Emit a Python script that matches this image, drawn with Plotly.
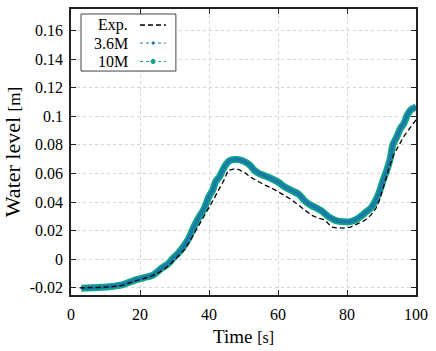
import plotly.graph_objects as go

# ---- data ----
t_exp = [2.5, 6, 9, 12, 15, 17, 19, 21, 23, 25, 27, 29, 31, 33, 35, 37, 39, 41, 43, 44.5, 45.5, 47, 48.5,
         50, 52, 54, 56, 58, 60, 62, 64, 66, 68, 70, 72, 73.6, 74.5, 75.5, 77, 79, 81, 83, 85, 87, 88.5,
         89.5, 90.5, 91.5, 92.5, 93.5, 95, 96.5, 98, 100]
y_exp = [-0.0200, -0.0200, -0.0197, -0.0192, -0.0182, -0.0165, -0.0148, -0.0135, -0.0122, -0.0100, -0.0070,
         -0.0030, 0.0020, 0.0070, 0.0150, 0.0230, 0.0320, 0.0405, 0.0500, 0.0560, 0.0620, 0.0630, 0.0628,
         0.0612, 0.0575, 0.0545, 0.0520, 0.0500, 0.0475, 0.0445, 0.0415, 0.0375, 0.0340, 0.0305, 0.0285,
         0.0275, 0.0250, 0.0225, 0.0220, 0.0218, 0.0225, 0.0245, 0.0270, 0.0310, 0.0360, 0.0420, 0.0500,
         0.0590, 0.0660, 0.0730, 0.0800, 0.0860, 0.0910, 0.0975]

t_sim = [3, 6, 9, 12, 15, 17, 19, 21, 23, 24, 25, 26.5, 28, 29.5, 31, 32.5, 34, 35.5, 37, 38.5, 40, 41, 42,
         43, 44, 45, 46, 47.5, 49, 50.5, 52, 53, 54.5, 56, 58, 60, 62, 64, 66, 67.5, 69, 71, 72.5, 74, 75.5,
         77, 79, 81, 82.5, 84, 85.5, 87, 88.5, 89.5, 90.5, 91.5, 92.5, 93.3, 94.5, 95.5, 96.5, 97.5, 98.5, 100]
y_10m = [-0.0203, -0.0200, -0.0196, -0.0190, -0.0178, -0.0160, -0.0143, -0.0130, -0.0118, -0.0108, -0.0088,
         -0.0058, -0.0035, 0.0005, 0.0040, 0.0085, 0.0140, 0.0220, 0.0290, 0.0350, 0.0440, 0.0480, 0.0545,
         0.0575, 0.0625, 0.0665, 0.0690, 0.0697, 0.0695, 0.0680, 0.0655, 0.0625, 0.0600, 0.0585, 0.0565,
         0.0540, 0.0505, 0.0480, 0.0455, 0.0415, 0.0385, 0.0360, 0.0340, 0.0310, 0.0285, 0.0268, 0.0262,
         0.0263, 0.0275, 0.0300, 0.0330, 0.0360, 0.0420, 0.0480, 0.0555, 0.0620, 0.0700, 0.0800, 0.0860,
         0.0915, 0.0950, 0.1010, 0.1045, 0.1065]
y_36m = [-0.0202, -0.0199, -0.0195, -0.0189, -0.0177, -0.0159, -0.0142, -0.0129, -0.0117, -0.0107, -0.0087,
         -0.0057, -0.0034, 0.0006, 0.0041, 0.0086, 0.0141, 0.0221, 0.0291, 0.0351, 0.0441, 0.0481, 0.0546,
         0.0576, 0.0626, 0.0666, 0.0691, 0.0698, 0.0696, 0.0681, 0.0656, 0.0626, 0.0601, 0.0586, 0.0566,
         0.0541, 0.0506, 0.0481, 0.0456, 0.0416, 0.0386, 0.0361, 0.0341, 0.0311, 0.0286, 0.0269, 0.0263,
         0.0264, 0.0276, 0.0301, 0.0331, 0.0361, 0.0421, 0.0481, 0.0556, 0.0621, 0.0701, 0.0801, 0.0861,
         0.0916, 0.0951, 0.1011, 0.1046, 0.1066]

x_ticks = [0, 20, 40, 60, 80, 100]
y_ticks = [-0.02, 0, 0.02, 0.04, 0.06, 0.08, 0.1, 0.12, 0.14, 0.16]
y_tick_labels = ["-0.02", "0", "0.02", "0.04", "0.06", "0.08", "0.1", "0.12", "0.14", "0.16"]

legend_names = ["Exp.", "3.6M", "10M"]

C_10M = "#10a585"
C_36M = "#1a78ac"
FONT = "Liberation Serif"

fig = go.Figure()
fig.add_trace(go.Scatter(x=t_sim, y=y_10m, mode="lines", name="10M",
                         line=dict(color=C_10M, width=7, shape="spline"), showlegend=False))
fig.add_trace(go.Scatter(x=t_sim, y=y_36m, mode="lines", name="3.6M",
                         line=dict(color=C_36M, width=3.5, shape="spline"), showlegend=False))
fig.add_trace(go.Scatter(x=t_exp, y=y_exp, mode="lines", name="Exp.",
                         line=dict(color="black", width=1.3, dash="5px,3px"), showlegend=False))

axis_common = dict(showline=True, linecolor="#222", linewidth=1.5, mirror="allticks",
                   ticks="inside", ticklen=5, tickcolor="#222", tickwidth=1,
                   showgrid=True, gridcolor="#d4d4d4", griddash="dot", gridwidth=1,
                   zeroline=False, automargin=False,
                   tickfont=dict(family=FONT, size=16, color="black"))

fig.update_xaxes(range=[0, 100], tickvals=x_ticks, ticklabelstandoff=4,
                 title=dict(text="Time <span style='font-size:16px'>[s]</span>",
                            font=dict(family=FONT, size=19, color="black"), standoff=8),
                 **axis_common)
fig.update_yaxes(range=[-0.025, 0.175], tickvals=y_ticks, ticktext=y_tick_labels, ticklabelstandoff=3,
                 title=dict(text="Water level <span style='font-size:17px'>[m]</span>",
                            font=dict(family=FONT, size=22, color="black"), standoff=10),
                 **axis_common)

# custom legend (text left, sample right)
shapes = [dict(type="rect", xref="paper", yref="paper", x0=0.029, x1=0.304, y0=0.783, y1=0.9825,
               line=dict(color="#444", width=1), fillcolor="white", layer="above")]
annotations = []
ys = [0.944, 0.881, 0.8164]
for name, yy in zip(legend_names, ys):
    annotations.append(dict(text=name, xref="paper", yref="paper", x=0.172, y=yy, xanchor="right",
                            yanchor="middle", showarrow=False, font=dict(family=FONT, size=16, color="black")))
shapes.append(dict(type="line", xref="paper", yref="paper", x0=0.2, x1=0.275, y0=ys[0], y1=ys[0],
                   line=dict(color="black", width=1.3, dash="5px,3px"), layer="above"))
shapes.append(dict(type="line", xref="paper", yref="paper", x0=0.2, x1=0.275, y0=ys[1], y1=ys[1],
                   line=dict(color=C_36M, width=1, dash="dot"), layer="above"))
shapes.append(dict(type="line", xref="paper", yref="paper", x0=0.2, x1=0.275, y0=ys[2], y1=ys[2],
                   line=dict(color=C_10M, width=1, dash="dot"), layer="above"))
# legend markers
shapes.append(dict(type="circle", xref="paper", yref="paper", x0=0.235, x1=0.241,
                   y0=ys[1] - 0.0045, y1=ys[1] + 0.0045, line=dict(color=C_36M, width=1),
                   fillcolor=C_36M, layer="above"))
shapes.append(dict(type="circle", xref="paper", yref="paper", x0=0.232, x1=0.244,
                   y0=ys[2] - 0.0075, y1=ys[2] + 0.0075, line=dict(color=C_10M, width=1),
                   fillcolor=C_10M, layer="above"))

fig.update_layout(width=436, height=351, margin=dict(l=71, r=20, t=9, b=56),
                  paper_bgcolor="white", plot_bgcolor="white", shapes=shapes, annotations=annotations,
                  font=dict(family=FONT, color="black"))

fig.write_html("out.html")
